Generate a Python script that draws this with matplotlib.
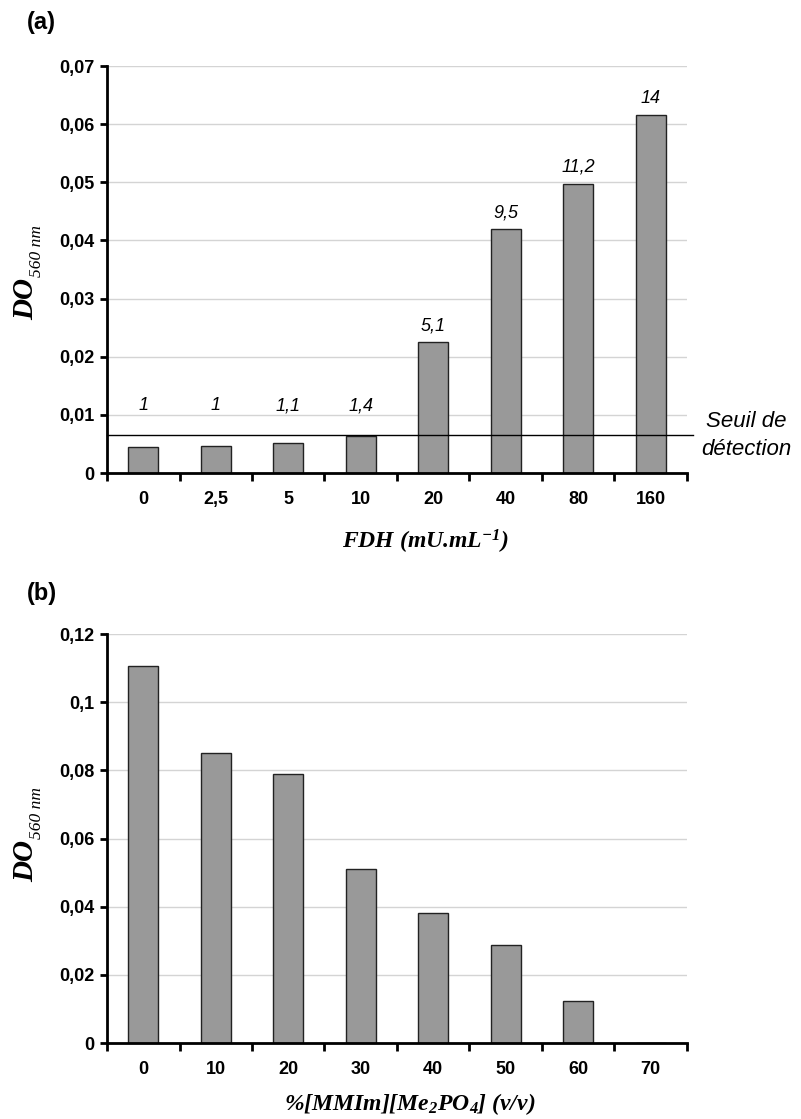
import numpy as np
import matplotlib.pyplot as plt
from matplotlib.ticker import FixedLocator, FuncFormatter

plt.rcParams['font.family'] = ['Liberation Sans', 'DejaVu Sans']
plt.rcParams['mathtext.fontset'] = 'custom'
plt.rcParams['mathtext.rm'] = 'Liberation Serif:italic:bold'
plt.rcParams['mathtext.it'] = 'Liberation Serif:italic:bold'
plt.rcParams['mathtext.bf'] = 'Liberation Serif:italic:bold'

# panel (a)
fdh_labels = ["0", "2,5", "5", "10", "20", "40", "80", "160"]
fdh_values = [0.0045, 0.0046, 0.0052, 0.0063, 0.0225, 0.0419, 0.0497, 0.0616]
fdh_ratios = ["1", "1", "1,1", "1,4", "5,1", "9,5", "11,2", "14"]
seuil = 0.0065

# panel (b)
il_labels = ["0", "10", "20", "30", "40", "50", "60", "70"]
il_values = [0.1107, 0.0850, 0.0788, 0.0512, 0.0381, 0.0287, 0.0123, 0.0]

bar_color = "#999999"
serif = dict(family="Liberation Serif", weight="bold", style="italic")

W, H = 801, 1119
fig = plt.figure(figsize=(W / 100, H / 100), dpi=100)
ax_a = fig.add_axes([0.1336, 0.5773, 0.724, 0.3637])
ax_b = fig.add_axes([0.1336, 0.0679, 0.724, 0.3655])


def comma(v, pos):
    s = "%g" % round(v, 4)
    return s.replace(".", ",")


def style(ax, labels, ymax, ystep):
    n = len(labels)
    ax.set_xlim(-0.5, n - 0.5)
    ax.set_ylim(0, ymax)
    ax.set_yticks(np.arange(0, ymax + ystep / 2, ystep))
    ax.yaxis.set_major_formatter(FuncFormatter(comma))
    ax.xaxis.set_major_locator(FixedLocator(np.arange(-0.5, n, 1.0)))
    ax.xaxis.set_major_formatter(FuncFormatter(lambda v, p: ""))
    ax.xaxis.set_minor_locator(FixedLocator(np.arange(n)))
    ax.set_xticklabels(labels, minor=True)
    ax.tick_params(axis="x", which="major", direction="out", length=6, width=2)
    ax.tick_params(axis="x", which="minor", length=0, pad=13, labelsize=13)
    ax.tick_params(axis="y", direction="out", length=5, width=2, labelsize=13, pad=4)
    for lab in ax.get_xticklabels(minor=True) + ax.get_yticklabels():
        lab.set_fontweight("bold")
    for side in ["top", "right"]:
        ax.spines[side].set_visible(False)
    for side in ["left", "bottom"]:
        ax.spines[side].set_linewidth(2)
    ax.yaxis.grid(True, color="#d4d4d4", linewidth=1)
    ax.set_axisbelow(True)


def do_label(x_px, y_px):
    # "DO" large with a small "560 nm" subscript, reading bottom to top
    fig.text(x_px / W, 1 - y_px / H, "DO", rotation=90, rotation_mode="anchor",
             ha="left", va="baseline", fontsize=21, **serif)
    fig.text((x_px + 8) / W, 1 - (y_px - 43) / H, "560 nm", rotation=90,
             rotation_mode="anchor", ha="left", va="baseline", fontsize=12.5,
             family="Liberation Serif", style="italic")


x = np.arange(len(fdh_labels))
ax_a.bar(x, fdh_values, width=0.41, color=bar_color, edgecolor="#222222", linewidth=1, zorder=2)
style(ax_a, fdh_labels, 0.07, 0.01)
for i, (v, r) in enumerate(zip(fdh_values, fdh_ratios)):
    y = max(v, seuil + 0.0022) + 0.0014
    ax_a.text(i, y, r, ha="center", va="bottom", style="italic", fontsize=13)
ax_a.axhline(seuil, xmin=0, xmax=1.01, color="black", linewidth=1, clip_on=False, zorder=3)
ax_a.text(1.103, seuil, "Seuil de\ndétection", transform=ax_a.get_yaxis_transform(),
          ha="center", va="center", multialignment="center", style="italic",
          fontsize=16, linespacing=1.45)
do_label(33, 320)
ax_a.set_xlabel("FDH (mU.mL$^{-1}$)", fontsize=17, **serif)
ax_a.xaxis.set_label_coords(0.548, -0.135)
fig.text(27 / W, 1 - 11 / H, "(a)", fontsize=17, fontweight="bold", va="top")

x = np.arange(len(il_labels))
ax_b.bar(x, il_values, width=0.41, color=bar_color, edgecolor="#222222", linewidth=1, zorder=2)
style(ax_b, il_labels, 0.12, 0.02)
do_label(33, 882)
ax_b.set_xlabel("%[MMIm][Me$_2$PO$_4$] (v/v)", fontsize=17, **serif)
ax_b.xaxis.set_label_coords(0.522, -0.118)
fig.text(27 / W, 1 - 582 / H, "(b)", fontsize=17, fontweight="bold", va="top")

fig.savefig("out.png", dpi=100)
